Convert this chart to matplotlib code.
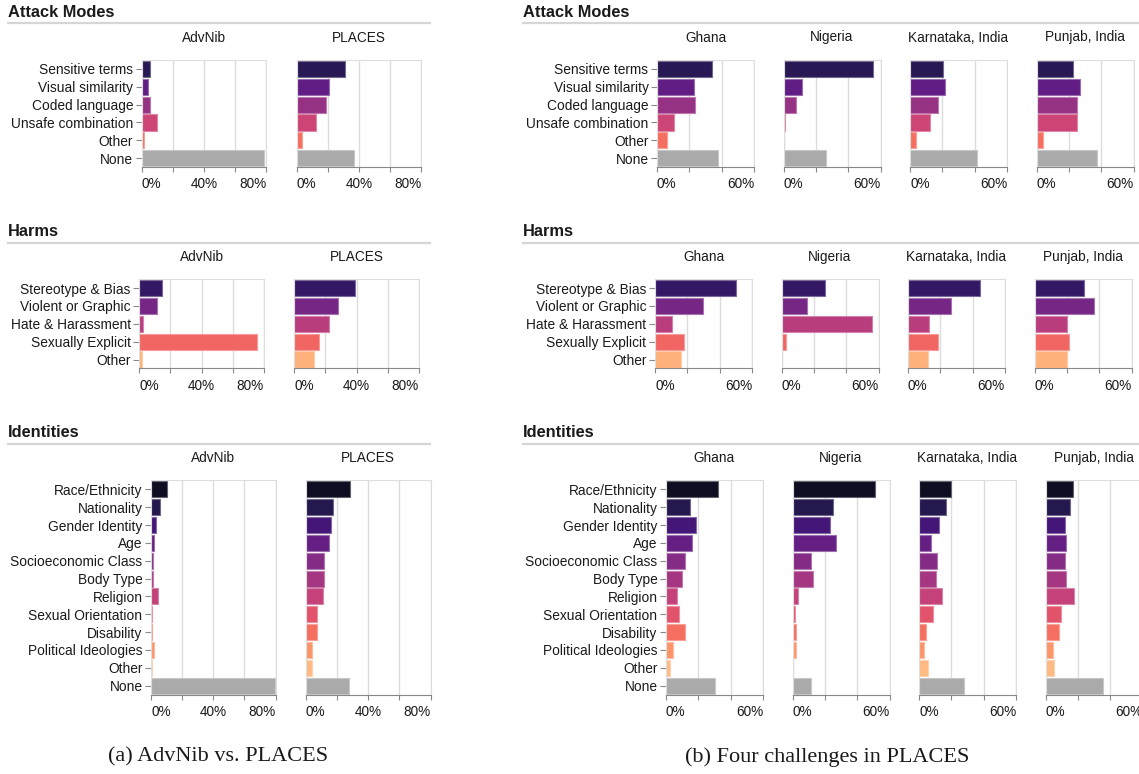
import matplotlib
matplotlib.use("Agg")
import matplotlib.pyplot as plt
from matplotlib import cm, colors as mcolors
from matplotlib.lines import Line2D
import numpy as np

W, H = 1139, 774

# ---- data (percent of prompts) ----
attack_modes = ["Sensitive terms", "Visual similarity", "Coded language",
                "Unsafe combination", "Other", "None"]
harms = ["Stereotype & Bias", "Violent or Graphic", "Hate & Harassment",
         "Sexually Explicit", "Other"]
identities = ["Race/Ethnicity", "Nationality", "Gender Identity", "Age",
              "Socioeconomic Class", "Body Type", "Religion", "Sexual Orientation",
              "Disability", "Political Ideologies", "Other", "None"]

left_cols = ["AdvNib", "PLACES"]
right_cols = ["Ghana", "Nigeria", "Karnataka, India", "Punjab, India"]

attack_advnib = [5.2, 4.1, 5.4, 10.1, 1.7, 78.3]
attack_places = [31.0, 20.9, 18.7, 12.7, 3.4, 36.6]
attack_ghana = [33.9, 22.6, 23.6, 10.7, 6.0, 37.6]
attack_nigeria = [55.2, 11.3, 7.9, 1.0, 0.2, 26.5]
attack_karnataka = [20.2, 21.5, 17.3, 12.1, 3.8, 41.3]
attack_punjab = [22.4, 27.2, 25.3, 24.9, 3.8, 37.7]

harms_advnib = [14.4, 11.5, 2.1, 75.8, 1.5]
harms_places = [39.2, 27.9, 22.4, 15.8, 12.8]
harms_ghana = [50.3, 29.8, 10.3, 17.7, 16.0]
harms_nigeria = [26.8, 15.7, 55.9, 2.9, 0.3]
harms_karnataka = [44.5, 26.5, 13.2, 18.4, 12.4]
harms_punjab = [30.7, 37.1, 19.8, 21.2, 20.0]

ident_advnib = [10.5, 5.8, 3.4, 2.1, 1.5, 1.3, 4.3, 0.9, 0.9, 2.1, 0.6, 79.8]
ident_places = [28.4, 17.3, 16.0, 14.7, 11.5, 11.3, 10.7, 7.3, 7.0, 3.6, 3.8, 27.5]
ident_ghana = [32.0, 15.0, 18.5, 16.2, 11.9, 9.9, 6.6, 8.0, 11.9, 4.1, 2.7, 30.4]
ident_nigeria = [50.8, 25.1, 23.5, 26.7, 11.2, 12.7, 3.5, 1.6, 2.2, 2.2, 0.4, 11.6]
ident_karnataka = [20.1, 16.8, 12.5, 7.7, 11.4, 10.8, 14.5, 8.7, 4.6, 3.3, 5.8, 28.0]
ident_punjab = [17.0, 15.0, 12.1, 12.7, 12.1, 12.7, 17.7, 9.7, 8.4, 4.9, 5.3, 35.7]

plt.rcParams['font.family'] = ['Liberation Sans', 'DejaVu Sans']
TXT = '#1a1a1a'

fig = plt.figure(figsize=(W / 100, H / 100), dpi=100)


def fx(x):
    return x / W


def fy(y):
    return 1 - y / H


def lighten(c, k):
    c = np.array(mcolors.to_rgb(c))
    return tuple(c + (1 - c) * k)


def palette(n, t0, t1, has_none):
    cols = [lighten(cm.magma(t), 0.03) for t in np.linspace(t0, t1, n)]
    if has_none:
        cols.append('#aaaaaa')
    return cols


def panel(x0, y0, w, h, cats, vals, cols, xmax, shown, title, show_y):
    ax = fig.add_axes([fx(x0), fy(y0 + h), w / W, h / H])
    n = len(cats)
    y = np.arange(n)
    edges = [lighten(c, 0.35) for c in cols]
    ax.barh(y, vals, height=0.9, color=cols, edgecolor=edges, linewidth=0.8, zorder=2)
    ax.set_ylim(n - 0.5, -0.5)
    ax.set_xlim(0, xmax)
    ticks = np.arange(0, xmax + 0.1, 20)
    labels = [f"{int(t)}%" if int(t) in shown else "" for t in ticks]
    ax.set_xticks(ticks, labels)
    tl = ax.get_xticklabels()
    tl[0].set_horizontalalignment('left')
    tl[-1].set_horizontalalignment('right')
    ax.grid(axis='x', color='#dddddd', lw=1, zorder=0)
    ax.set_axisbelow(True)
    for s in ['top', 'left', 'right']:
        ax.spines[s].set_color('#dddddd')
    ax.spines['bottom'].set_color('#888888')
    ax.tick_params(axis='x', length=3.8, color='#888888', pad=3.5,
                   labelsize=9.8, labelcolor=TXT)
    if show_y:
        ax.set_yticks(y, cats)
        ax.tick_params(axis='y', length=4.2, color='#888888', pad=2,
                       labelsize=9.9, labelcolor=TXT)
    else:
        ax.set_yticks([])
    fig.text(fx(x0 + w / 2), fy(y0 - 22.5), title, ha='center', va='center',
             fontsize=9.8, color=TXT)
    return ax


def section(x_title, x_line_end, top, name):
    fig.text(fx(x_title), fy(top - 47.5), name, fontweight='bold', fontsize=11.8,
             ha='left', va='center', color=TXT)
    fig.add_artist(Line2D([fx(x_title), fx(x_line_end)],
                          [fy(top - 36.6), fy(top - 36.6)], color='#d6d6d6', lw=1.6))


ROW = 17.85

# (categories, left data, right data, top, left x0, right x0, magma range, has None)
sections = [
    ("Attack Modes", attack_modes, [attack_advnib, attack_places],
     [attack_ghana, attack_nigeria, attack_karnataka, attack_punjab],
     60.0, 141.7, 657.0, (0.14, 0.69), True),
    ("Harms", harms, [harms_advnib, harms_places],
     [harms_ghana, harms_nigeria, harms_karnataka, harms_punjab],
     279.2, 139.3, 655.0, (0.17, 0.83), False),
    ("Identities", identities, [ident_advnib, ident_places],
     [ident_ghana, ident_nigeria, ident_karnataka, ident_punjab],
     480.4, 151.0, 666.0, (0.05, 0.85), True),
]

for name, cats, ldata, rdata, top, lx, rx, (t0, t1), has_none in sections:
    n_col = len(cats) - (1 if has_none else 0)
    cols = palette(n_col, t0, t1, has_none)
    h = ROW * len(cats)
    section(8, 430, top, name)
    section(523, 1139, top, name)
    for i, (vals, title) in enumerate(zip(ldata, left_cols)):
        panel(lx + i * 155.0, top, 124.5, h, cats, vals, cols, 80, [0, 40, 80],
              title, i == 0)
    for i, (vals, title) in enumerate(zip(rdata, right_cols)):
        panel(rx + i * 126.5, top, 97.0, h, cats, vals, cols, 60, [0, 60],
              title, i == 0)

fig.text(fx(218), fy(757), "(a) AdvNib vs. PLACES", family='Liberation Serif',
         fontsize=16, ha='center', va='center', color=TXT)
fig.text(fx(827), fy(757), "(b) Four challenges in PLACES", family='Liberation Serif',
         fontsize=16, ha='center', va='center', color=TXT)

fig.savefig("out.png", dpi=100)
